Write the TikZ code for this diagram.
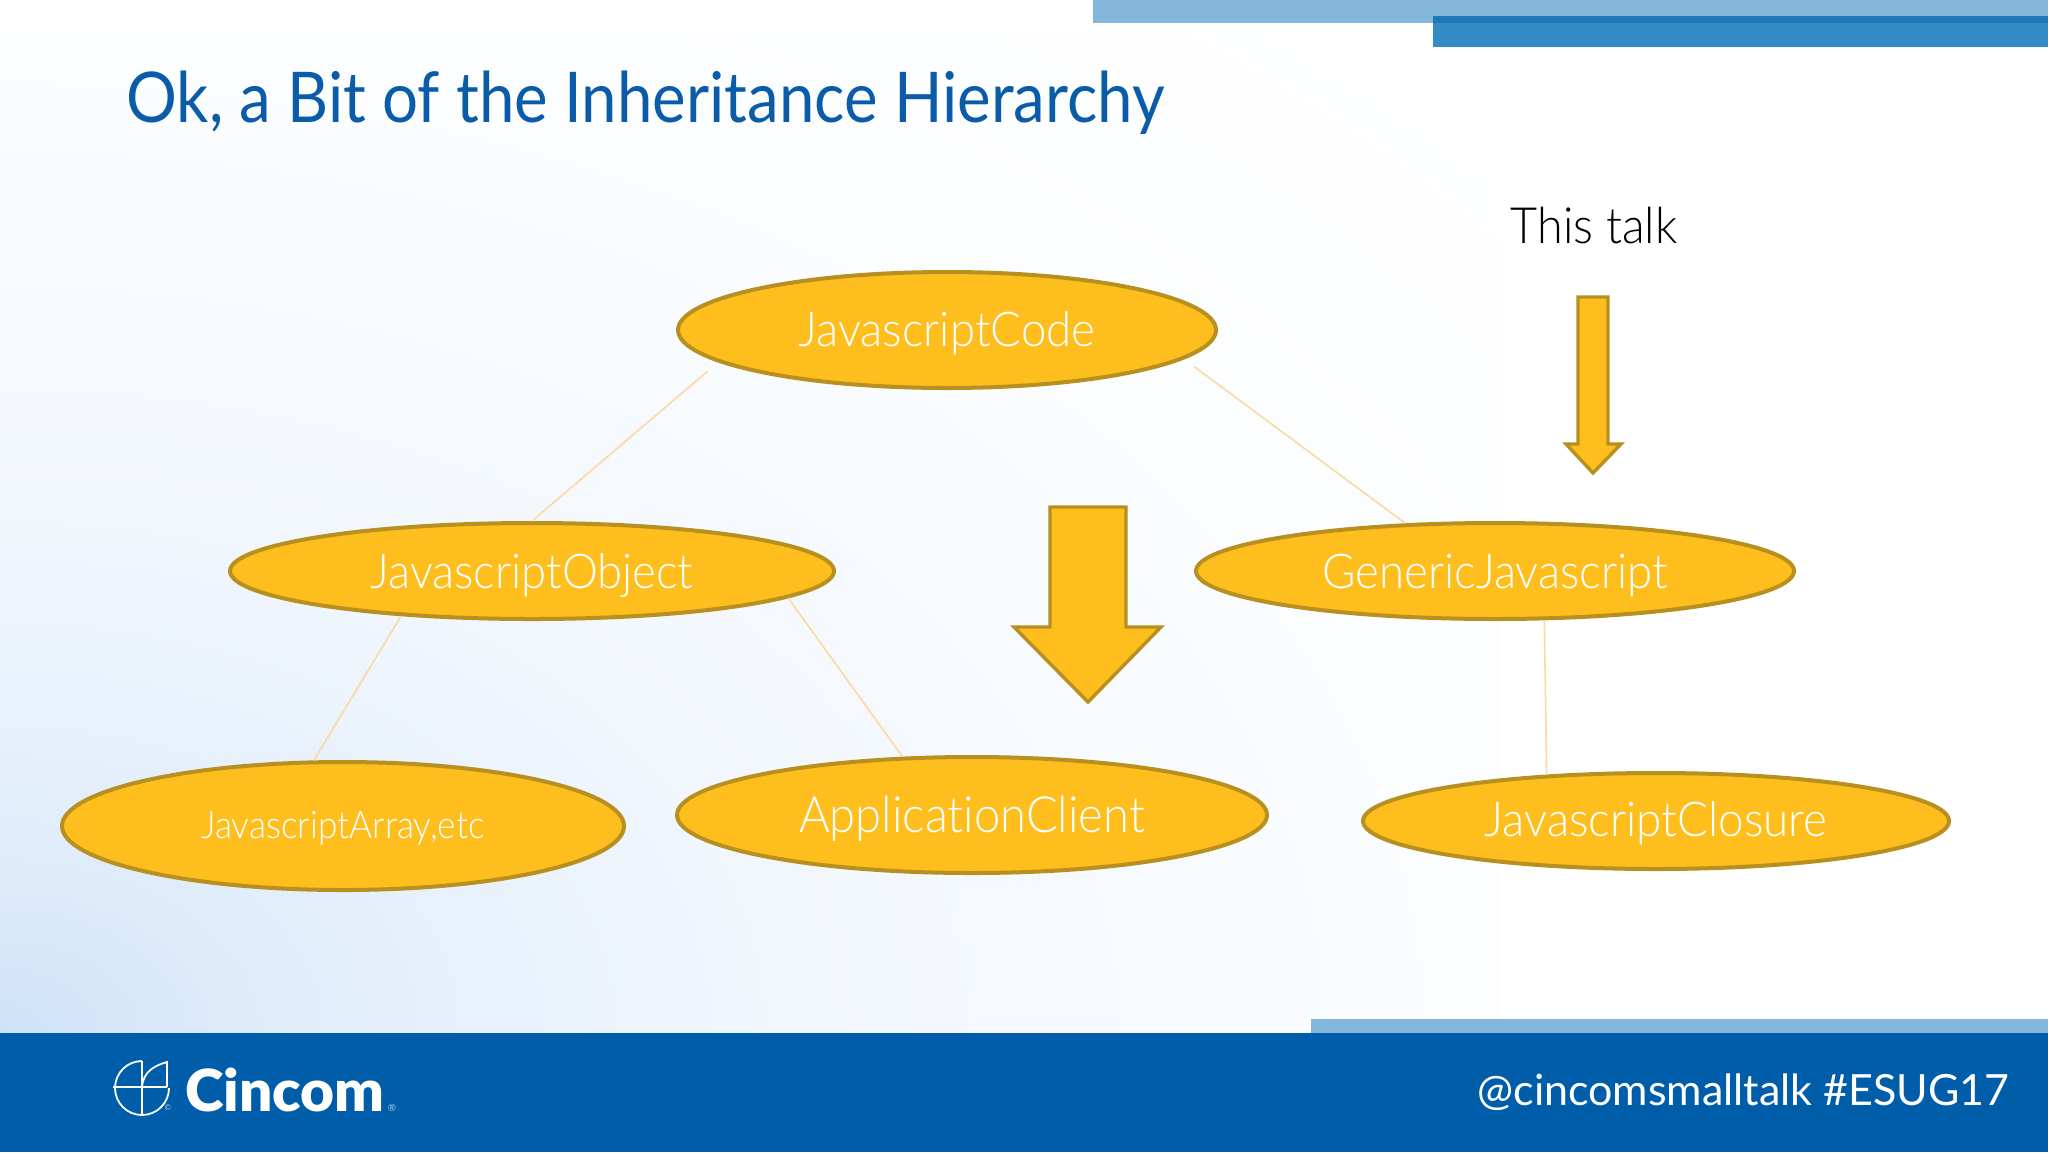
\documentclass[tikz,border=0pt]{standalone}
\usepackage{fontspec}
\usepackage{graphicx}
\setmainfont{Lato}[UprightFont=* Light,BoldFont=* Bold,Ligatures=NoCommon]
\newfontfamily\titlefont{Lato}[Ligatures=NoCommon]
\newfontfamily\logofont{Lato}[UprightFont=* Black]
\usetikzlibrary{shapes.geometric}
\definecolor{brandblue}{HTML}{005DAA}
\definecolor{titleblue}{HTML}{0A5CA8}
\definecolor{lightbar}{HTML}{82B6DA}
\definecolor{darkbar}{HTML}{358BC5}
\definecolor{darkedge}{HTML}{1F78B8}
\definecolor{goldfill}{HTML}{FDBE1E}
\definecolor{goldedge}{HTML}{B8901F}
\definecolor{linkcol}{HTML}{FBD9A0}
\definecolor{glow}{HTML}{CFE2F8}
\pgfdeclareradialshading{bgglow}{\pgfpoint{0bp}{0bp}}{color(0bp)=(glow); color(5bp)=(glow!62!white); color(13bp)=(glow!28!white); color(24bp)=(glow!8!white); color(34bp)=(white); color(50bp)=(white)}
\newcommand{\lab}[3]{\raisebox{-#1pt}[0pt][0pt]{\scalebox{#2}[1]{#3}}}
\tikzset{
  x=0.5pt,y=-0.5pt,
  oval/.style={ellipse,draw=goldedge,fill=goldfill,line width=2pt,inner sep=0pt,text=white},
  link/.style={draw=linkcol,line width=0.8pt},
  goldarrow/.style={draw=goldedge,fill=goldfill,line width=1.7pt,line join=miter},
  logoline/.style={draw=white,line width=0.9pt},
}
\begin{document}
\begin{tikzpicture}
\useasboundingbox (0,0) rectangle (2048,1152);
\fill[white] (0,0) rectangle (2048,1152);
\begin{scope}
  \clip (0,0) rectangle (2048,1033);
  \fill[shading=bgglow] (-1500,33) rectangle (1500,2033);
\end{scope}
% bars
\fill[lightbar] (1093,0) rectangle (2048,23);
\fill[darkbar] (1433,16) rectangle (2048,47);
\fill[darkedge] (1433,16) rectangle (2048,23);
\fill[lightbar] (1311,1019) rectangle (2048,1033);
\fill[brandblue] (0,1033) rectangle (2048,1152);
% title
\node[anchor=west,text=titleblue,font=\titlefont\fontsize{35}{42}\selectfont,inner sep=0pt] (title) at (126,103) {\scalebox{0.908}[1]{Ok, a Bit of the Inheritance Hierarchy}};
\node[text=black,font=\fontsize{25}{30}\selectfont,inner sep=0pt] (talk) at (1594,226) {\scalebox{0.934}[1]{This talk}};
% ovals
\node[oval,minimum width=269pt,minimum height=58pt,font=\fontsize{24}{28}\selectfont] (code) at (947,330) {\lab{8.2}{0.95}{JavascriptCode}};
\node[oval,minimum width=302pt,minimum height=48pt,font=\fontsize{24}{28}\selectfont] (object) at (532,571) {\lab{8.8}{0.947}{JavascriptObject}};
\node[oval,minimum width=299pt,minimum height=48pt,font=\fontsize{24}{28}\selectfont] (generic) at (1495,571) {\lab{8.8}{0.95}{GenericJavascript}};
\node[oval,minimum width=281pt,minimum height=64pt,font=\fontsize{19}{24}\selectfont] (array) at (343,826) {\lab{6.3}{0.927}{JavascriptArray,etc}};
\node[oval,minimum width=295pt,minimum height=58pt,font=\fontsize{25}{30}\selectfont] (client) at (972,815) {\lab{8.6}{0.943}{ApplicationClient}};
\node[oval,minimum width=293pt,minimum height=48pt,font=\fontsize{24}{28}\selectfont] (closure) at (1656,821) {\lab{7.7}{0.953}{JavascriptClosure}};
% connectors
\draw[link,shorten <=7pt] (code.188) -- (object.90);
\draw[link,shorten <=6.5pt] (code.-7) -- (generic.152);
\draw[link] (object.199) -- (array.114);
\draw[link] (object.-6.5) -- (client.140);
\draw[link] (generic.-45) -- (closure.157.8);
% block arrows
\draw[goldarrow] (1050,507) -- (1126,507) -- (1126,627) -- (1161,627) -- (1088,702) -- (1014,627) -- (1050,627) -- cycle;
\draw[goldarrow] (1578,297) -- (1608,297) -- (1608,444) -- (1621,444) -- (1593,473) -- (1566,444) -- (1578,444) -- cycle;
% footer logo
\draw[logoline] (142,1061) arc[start angle=90,end angle=360,radius=13.5pt];
\draw[logoline] (113,1087) -- (167,1087);
\draw[logoline] (142,1061) -- (142,1114);
\draw[logoline] (167,1087) -- (167,1062) .. controls (153,1066) and (144,1072) .. (142,1086);
\node[text=white!70!brandblue,font=\titlefont\fontsize{4}{5}\selectfont,inner sep=0pt] (logomark) at (168,1108) {©};
\node[text=white,font=\logofont\fontsize{29}{34}\selectfont,inner sep=0pt,anchor=west] (brand) at (185,1090) {\scalebox{1.01}[1]{Cincom}};
\node[text=white!70!brandblue,font=\titlefont\fontsize{5}{6}\selectfont,inner sep=0pt] (regmark) at (392,1108) {®};
\node[text=white,font=\titlefont\fontsize{21.5}{26}\selectfont,inner sep=0pt,anchor=east] (tag) at (2010,1092) {\scalebox{1.0}[1]{@cincomsmalltalk \#ESUG17}};
\end{tikzpicture}
\end{document}
